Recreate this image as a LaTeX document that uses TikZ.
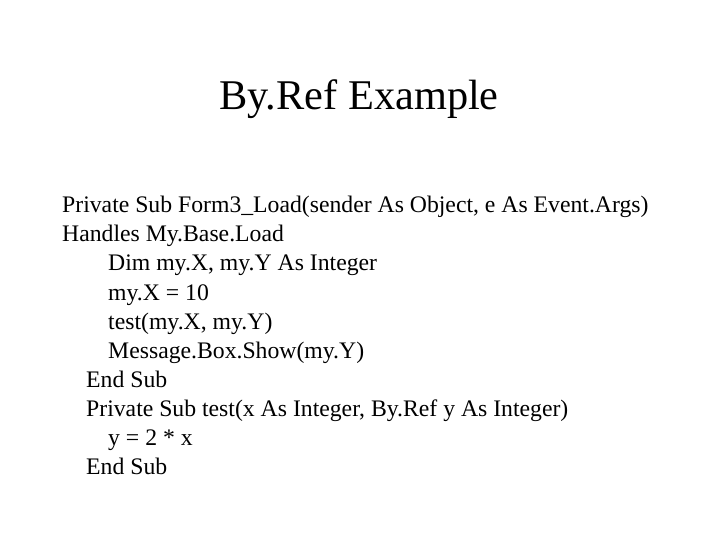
\documentclass[tikz,border=0pt]{standalone}
\usepackage{fontspec}
\setmainfont{Liberation Serif}
\begin{document}
\begin{tikzpicture}[x=1bp,y=-1bp,
  ln/.style={anchor=base west,inner sep=0pt,font=\fontsize{23.8}{28}\selectfont}]
\useasboundingbox[fill=white] (0,0) rectangle (720,540);
\node[anchor=base,inner sep=0pt,font=\fontsize{42.5}{48}\selectfont] (title) at (359,110) {By.Ref Example};
\node[ln] (l1) at (62,213) {Private Sub Form3\_Load(sender As Object, e As Event.Args)};
\node[ln] (l2) at (62,242) {Handles My.Base.Load};
\node[ln] (l3) at (108,271) {Dim my.X, my.Y As Integer};
\node[ln] (l4) at (108,300) {my.X = 10};
\node[ln] (l5) at (108,329) {test(my.X, my.Y)};
\node[ln] (l6) at (108,358) {Message.Box.Show(my.Y)};
\node[ln] (l7) at (86,387) {End Sub};
\node[ln] (l8) at (86,416) {Private Sub test(x As Integer, By.Ref y As Integer)};
\node[ln] (l9) at (108,445) {y = 2 * x};
\node[ln] (l10) at (86,474) {End Sub};
\end{tikzpicture}
\end{document}
